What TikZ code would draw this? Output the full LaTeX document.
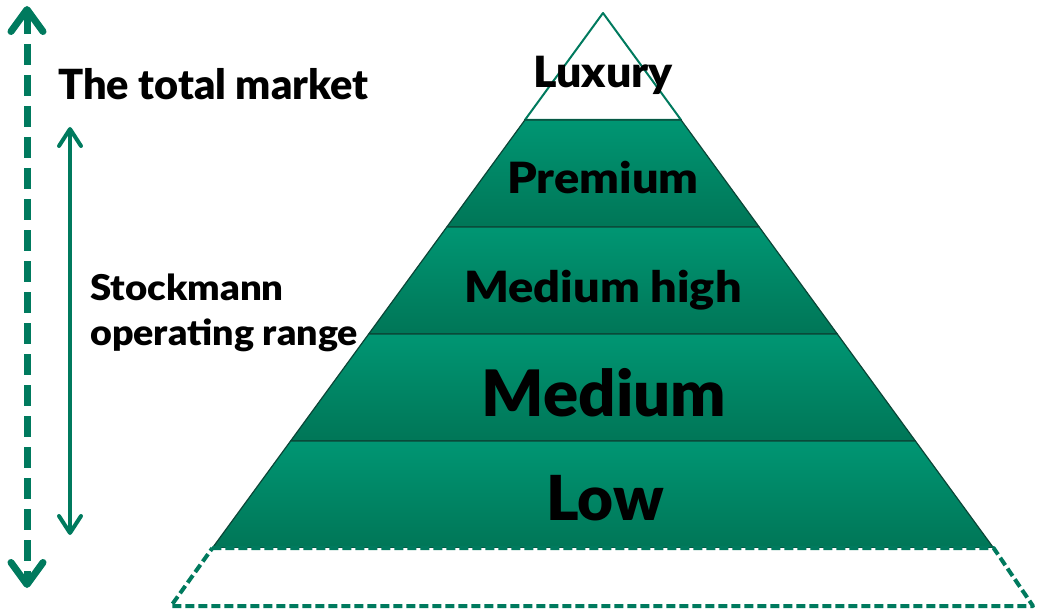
\documentclass[tikz,border=0pt]{standalone}
\usepackage{fontspec}
\setmainfont{Lato}[BoldFont={Lato Black}]
\usetikzlibrary{arrows.meta}
\definecolor{bandtop}{HTML}{009673}
\definecolor{bandbot}{HTML}{007657}
\definecolor{bandline}{HTML}{0B4536}
\definecolor{arrowgreen}{HTML}{007A5E}
\newcommand{\wide}[2]{\scalebox{#1}[1]{#2}}
\begin{document}
\begin{tikzpicture}[x=1pt,y=-1pt,
  band/.style={top color=bandtop,bottom color=bandbot,draw=bandline,line width=1.2pt,line join=round},
  label/.style={text=black,inner sep=0pt,anchor=base},
  bigarrow/.style={draw=arrowgreen,line width=7pt,dash pattern=on 21pt off 10pt,
    {Straight Barb[length=22pt,width=32pt,line width=7pt,round]}-{Straight Barb[length=22pt,width=32pt,line width=7pt,round]}},
  rangearrow/.style={draw=arrowgreen,line width=4pt,
    {Straight Barb[length=17pt,width=22pt,line width=4pt,round]}-{Straight Barb[length=17pt,width=22pt,line width=4pt,round]}}]
\useasboundingbox (0,0) rectangle (1037,615);

% pyramid bands, top to bottom
\draw[fill=white,draw=arrowgreen,line width=2pt,line join=round]
  (603,13) -- (681.1,120) -- (524.9,120) -- cycle;
\path[band] (524.9,120) -- (681.1,120) -- (759.2,227) -- (446.8,227) -- cycle;
\path[band] (446.8,227) -- (759.2,227) -- (837.3,334) -- (368.7,334) -- cycle;
\path[band] (368.7,334) -- (837.3,334) -- (915.4,441) -- (290.6,441) -- cycle;
\path[band] (290.6,441) -- (915.4,441) -- (993.6,548) -- (212.4,548) -- cycle;

% dashed base below the pyramid
\draw[draw=arrowgreen,line width=4pt,dash pattern=on 9pt off 4pt,fill=white,line join=round]
  (212.4,548) -- (993.6,548) -- (1033,606) -- (171,606) -- cycle;

% band labels
\node[label,font=\bfseries\fontsize{43}{43}\selectfont] (luxury) at (603,88) {\wide{1.04}{Luxury}};
\node[label,font=\bfseries\fontsize{43}{43}\selectfont] (premium) at (603,194) {\wide{1.09}{Premium}};
\node[label,font=\bfseries\fontsize{43}{43}\selectfont] (mediumhigh) at (603,302) {\wide{1.09}{Medium high}};
\node[label,font=\bfseries\fontsize{64}{64}\selectfont] (medium) at (604,416) {\wide{1.02}{Medium}};
\node[label,font=\bfseries\fontsize{62}{62}\selectfont] (low) at (605,520) {Low};

% side labels
\node[font=\bfseries\fontsize{41.5}{41.5}\selectfont,inner sep=0pt,anchor=base west] (total) at (58,100) {The total market};
\node[font=\bfseries\fontsize{35.5}{45}\selectfont,inner sep=0pt,anchor=base west,align=left] (range) at (90,345)
  {\wide{1.08}{Stockmann}\\\wide{1.06}{operating range}};

% range arrows
\coordinate (totaltop) at (27,6);
\coordinate (totalbot) at (27,588);
\coordinate (rangetop) at (70,127);
\coordinate (rangebot) at (70,535);
\draw[bigarrow] (totaltop) -- (totalbot);
\draw[rangearrow] (rangetop) -- (rangebot);
\end{tikzpicture}
\end{document}
